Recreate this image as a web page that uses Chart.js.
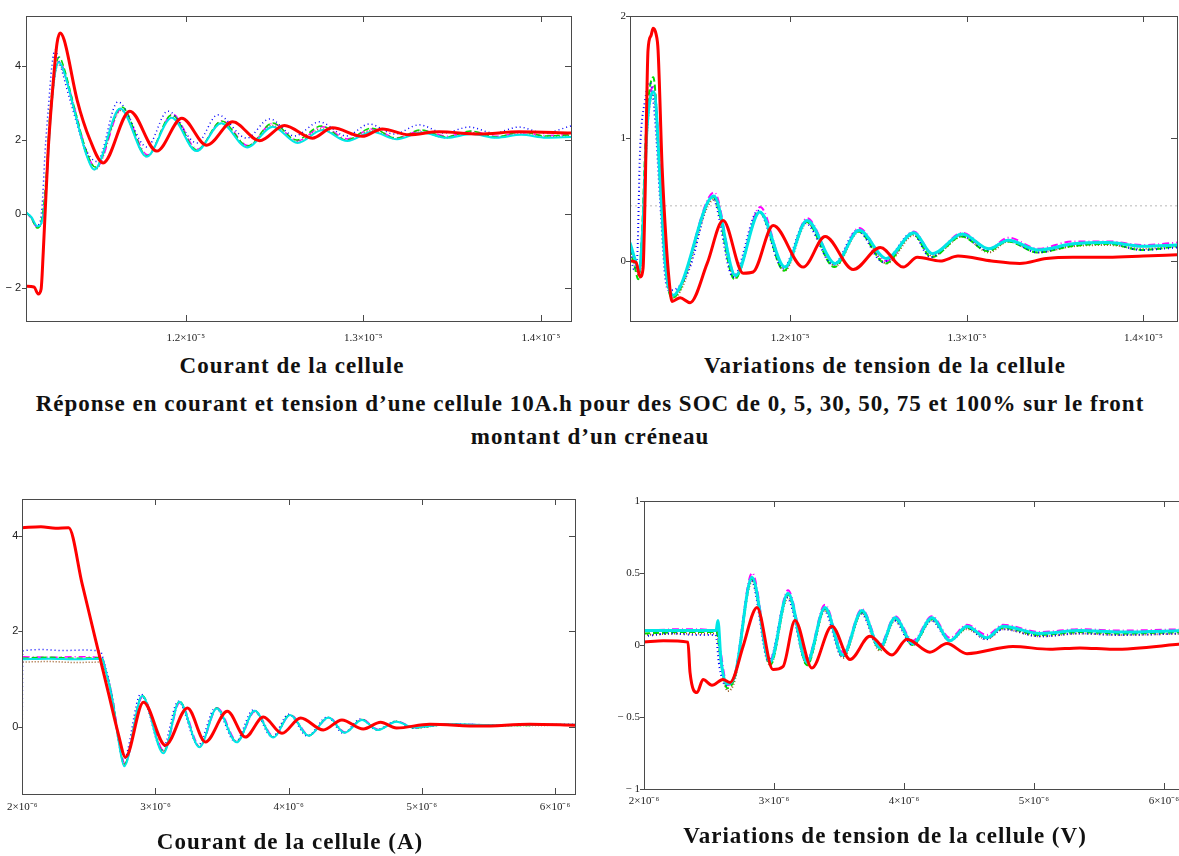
<!DOCTYPE html>
<html lang="fr">
<head>
<meta charset="utf-8">
<title>Réponse en courant et tension d’une cellule 10A.h</title>
<script src="https://cdn.jsdelivr.net/npm/chart.js@4.4.1/dist/chart.umd.min.js"></script>
<style>
  body { margin: 0; width: 1179px; height: 856px; overflow: hidden; position: relative; background: #fff; }
  canvas { position: absolute; }
  .cap { position: absolute; transform: translate(-50%, -50%); font: bold 23px 'Liberation Serif', serif; letter-spacing: 1px; color: #111; white-space: nowrap; }
</style>
</head>
<body>
<canvas id="iMontee" width="590" height="350" style="left:0;top:0"></canvas>
<canvas id="vMontee" width="589" height="350" style="left:590px;top:0"></canvas>
<canvas id="iDescente" width="590" height="350" style="left:0;top:480px"></canvas>
<canvas id="vDescente" width="610" height="350" style="left:590px;top:480px"></canvas>

<div class="cap" style="left:292px;top:366px">Courant de la cellule</div>
<div class="cap" style="left:885px;top:366px">Variations de tension de la cellule</div>
<div class="cap" style="left:590px;top:404px">Réponse en courant et tension d’une cellule 10A.h pour des SOC de 0, 5, 30, 50, 75 et 100% sur le front</div>
<div class="cap" style="left:590px;top:437px">montant d’un créneau</div>
<div class="cap" style="left:290px;top:842px">Courant de la cellule (A)</div>
<div class="cap" style="left:885px;top:836px">Variations de tension de la cellule (V)</div>

<script>
// temps en microsecondes, valeurs en A ou en V
const socLabels = ['SOC 0%', 'SOC 5%', 'SOC 30%', 'SOC 50%', 'SOC 75%', 'SOC 100%'];

// front montant - courant
const iMontee0 = [[11.10,-1.95],[11.145,-1.97],[11.169,-2.16],[11.185,-2.03],[11.197,-1.05],[11.225,1.73],[11.253,3.54],[11.275,4.62],[11.292,4.89],[11.315,4.7],[11.388,3.08],[11.461,2.0],[11.534,1.38],[11.685,2.78],[11.837,1.70],[11.978,2.59],[12.118,1.86],[12.264,2.49],[12.416,1.98],[12.556,2.39],[12.713,2.05],[12.826,2.33],[12.994,2.10],[13.107,2.3],[13.258,2.14],[13.427,2.22],[13.652,2.16],[13.876,2.22],[14.17,2.19]];
const iMontee5 = [[11.10,0.05],[11.124,-0.05],[11.157,-0.32],[11.174,-0.27],[11.191,0.24],[11.208,1.73],[11.225,2.81],[11.247,4.05],[11.264,4.43],[11.281,4.22],[11.348,3.08],[11.433,1.78],[11.50,1.42],[11.618,3.03],[11.781,1.81],[11.899,2.78],[12.062,1.92],[12.18,2.68],[12.343,2.05],[12.472,2.57],[12.612,2.11],[12.753,2.49],[12.904,2.11],[13.034,2.43],[13.174,2.16],[13.315,2.41],[13.455,2.19],[13.596,2.35],[13.736,2.19],[13.876,2.35],[14.017,2.19],[14.17,2.38]];
const iMontee30 = [[11.10,0.05],[11.129,-0.1],[11.163,-0.38],[11.185,-0.22],[11.208,0.65],[11.236,2.81],[11.264,3.89],[11.287,4.24],[11.309,4.03],[11.376,2.81],[11.438,1.73],[11.489,1.27],[11.64,2.89],[11.781,1.57],[11.921,2.68],[12.062,1.73],[12.202,2.51],[12.348,1.84],[12.489,2.46],[12.624,2.0],[12.764,2.38],[12.904,2.0],[13.045,2.32],[13.185,2.05],[13.326,2.27],[13.466,2.08],[13.607,2.24],[13.747,2.08],[13.888,2.22],[14.028,2.11],[14.17,2.14]];
const iMontee50 = [[11.10,0.05],[11.13,-0.12],[11.165,-0.36],[11.19,-0.2],[11.21,0.6],[11.24,2.8],[11.265,3.85],[11.29,4.15],[11.31,3.95],[11.38,2.75],[11.44,1.7],[11.495,1.25],[11.64,2.85],[11.785,1.6],[11.925,2.7],[12.065,1.75],[12.205,2.52],[12.35,1.85],[12.49,2.45],[12.63,1.98],[12.77,2.36],[12.91,2.03],[13.05,2.3],[13.19,2.06],[13.33,2.26],[13.47,2.1],[13.61,2.23],[13.75,2.1],[13.89,2.2],[14.03,2.12],[14.17,2.15]];
const iMontee75 = [[11.10,0.02],[11.13,-0.1],[11.165,-0.35],[11.19,-0.22],[11.21,0.55],[11.24,2.7],[11.265,3.8],[11.285,4.05],[11.31,3.85],[11.38,2.65],[11.44,1.6],[11.49,1.2],[11.635,2.8],[11.78,1.55],[11.92,2.62],[12.06,1.7],[12.2,2.45],[12.345,1.82],[12.485,2.4],[12.625,1.95],[12.765,2.3],[12.905,2.0],[13.045,2.26],[13.185,2.03],[13.325,2.22],[13.465,2.06],[13.605,2.2],[13.745,2.07],[13.885,2.17],[14.025,2.08],[14.17,2.12]];
const iMontee100 = [[11.10,0.05],[11.13,-0.08],[11.165,-0.33],[11.19,-0.2],[11.21,0.5],[11.24,2.7],[11.262,3.75],[11.285,4.1],[11.31,3.9],[11.38,2.65],[11.44,1.6],[11.485,1.2],[11.63,2.85],[11.78,1.55],[11.92,2.6],[12.06,1.7],[12.2,2.45],[12.345,1.8],[12.49,2.36],[12.63,1.92],[12.77,2.27],[12.91,1.97],[13.05,2.22],[13.19,2.02],[13.33,2.2],[13.47,2.06],[13.61,2.16],[13.75,2.06],[13.89,2.14],[14.03,2.06],[14.17,2.08]];

// front montant - tension
const vMontee0 = [[11.093,0.0],[11.127,-0.01],[11.15,-0.13],[11.167,-0.06],[11.178,0.5],[11.195,1.72],[11.212,1.84],[11.224,1.9],[11.241,1.85],[11.252,1.72],[11.275,0.76],[11.297,0.17],[11.314,-0.15],[11.331,-0.33],[11.377,-0.30],[11.433,-0.34],[11.53,-0.02],[11.62,0.33],[11.734,-0.1],[11.79,-0.09],[11.904,0.29],[12.074,-0.05],[12.198,0.2],[12.357,-0.07],[12.51,0.11],[12.64,-0.05],[12.72,0.03],[12.85,0.0],[12.95,0.04],[13.14,0.0],[13.3,-0.02],[13.45,0.02],[13.6,0.03],[13.8,0.03],[14.0,0.04],[14.19,0.05]];
const vMontee5 = [[11.093,0.1],[11.116,-0.07],[11.133,0.01],[11.15,0.9],[11.178,1.31],[11.207,1.46],[11.235,1.15],[11.263,0.5],[11.292,-0.13],[11.314,-0.24],[11.377,-0.2],[11.433,-0.05],[11.558,0.52],[11.677,-0.13],[11.819,0.41],[11.96,-0.06],[12.085,0.31],[12.244,-0.03],[12.38,0.25],[12.527,-0.01],[12.691,0.23],[12.793,0.03],[12.963,0.21],[13.116,0.09],[13.229,0.17],[13.399,0.07],[13.586,0.13],[13.796,0.15],[13.983,0.09],[14.19,0.11]];
const vMontee30 = [[11.093,0.1],[11.12,-0.05],[11.14,-0.15],[11.16,0.2],[11.185,1.1],[11.225,1.5],[11.265,0.6],[11.29,0.0],[11.33,-0.3],[11.37,-0.25],[11.565,0.52],[11.685,-0.15],[11.825,0.4],[11.965,-0.08],[12.09,0.32],[12.25,-0.05],[12.385,0.24],[12.54,-0.02],[12.695,0.22],[12.8,0.03],[12.97,0.2],[13.12,0.08],[13.23,0.16],[13.4,0.07],[13.59,0.12],[13.8,0.14],[13.99,0.09],[14.19,0.12]];
const vMontee50 = [[11.093,0.12],[11.12,0.0],[11.145,-0.1],[11.165,0.3],[11.19,1.15],[11.228,1.42],[11.27,0.55],[11.295,-0.02],[11.335,-0.28],[11.375,-0.22],[11.57,0.56],[11.69,-0.12],[11.83,0.44],[11.97,-0.06],[12.095,0.35],[12.255,-0.02],[12.39,0.27],[12.545,0.0],[12.7,0.24],[12.805,0.06],[12.975,0.23],[13.125,0.1],[13.235,0.19],[13.405,0.1],[13.6,0.16],[13.8,0.16],[14.0,0.13],[14.19,0.15]];
const vMontee75 = [[11.093,0.08],[11.12,-0.02],[11.145,-0.12],[11.165,0.2],[11.19,1.05],[11.225,1.36],[11.268,0.52],[11.295,-0.05],[11.335,-0.3],[11.38,-0.24],[11.568,0.5],[11.688,-0.14],[11.828,0.4],[11.968,-0.08],[12.095,0.31],[12.255,-0.04],[12.39,0.24],[12.545,-0.02],[12.7,0.21],[12.805,0.04],[12.975,0.2],[13.125,0.07],[13.235,0.16],[13.405,0.07],[13.6,0.12],[13.8,0.13],[14.0,0.1],[14.19,0.12]];
const vMontee100 = [[11.093,0.15],[11.12,0.02],[11.145,-0.08],[11.165,0.25],[11.19,1.1],[11.228,1.38],[11.27,0.5],[11.295,-0.05],[11.34,-0.28],[11.38,-0.2],[11.568,0.53],[11.69,-0.12],[11.828,0.4],[11.97,-0.05],[12.095,0.33],[12.255,-0.02],[12.39,0.25],[12.545,0.02],[12.7,0.23],[12.805,0.06],[12.975,0.22],[13.125,0.1],[13.235,0.17],[13.405,0.09],[13.6,0.14],[13.8,0.15],[14.0,0.12],[14.19,0.13]];
const vMonteeRepere = 0.45;

// front descendant - courant
const iDescente0 = [[2.0,4.17],[2.14,4.19],[2.25,4.16],[2.348,4.17],[2.45,2.99],[2.55,1.83],[2.65,0.68],[2.72,-0.13],[2.775,-0.63],[2.91,0.52],[3.075,-0.38],[3.24,0.40],[3.375,-0.31],[3.54,0.33],[3.675,-0.21],[3.81,0.21],[3.95,-0.13],[4.09,0.19],[4.26,-0.06],[4.4,0.15],[4.56,-0.04],[4.69,0.1],[4.81,-0.02],[5.06,0.06],[5.44,0.02],[5.81,0.06],[6.15,0.04]];
const iDescente5 = [[2.0,0.0],[2.003,1.59],[2.15,1.62],[2.3,1.6],[2.45,1.61],[2.585,1.59],[2.61,1.40],[2.68,0.57],[2.72,-0.27],[2.76,-0.69],[2.89,0.69],[3.05,-0.48],[3.17,0.54],[3.32,-0.38],[3.45,0.40],[3.6,-0.31],[3.735,0.36],[3.875,-0.21],[4.0,0.27],[4.14,-0.19],[4.29,0.21],[4.41,-0.13],[4.54,0.17],[4.66,-0.06],[4.8,0.12],[4.93,-0.02],[5.21,0.06],[5.59,0.04],[6.15,0.06]];
const iDescente30 = [[2.003,1.44],[2.2,1.46],[2.4,1.44],[2.6,1.45],[2.615,1.3],[2.68,0.55],[2.725,-0.3],[2.765,-0.78],[2.9,0.66],[3.06,-0.52],[3.18,0.54],[3.33,-0.42],[3.46,0.40],[3.61,-0.31],[3.745,0.34],[3.885,-0.21],[4.01,0.26],[4.15,-0.18],[4.3,0.2],[4.42,-0.12],[4.55,0.16],[4.67,-0.06],[4.81,0.12],[4.94,-0.02],[5.2,0.06],[5.6,0.03],[6.15,0.05]];
const iDescente50 = [[2.003,1.47],[2.2,1.46],[2.4,1.47],[2.6,1.45],[2.618,1.3],[2.685,0.5],[2.73,-0.32],[2.77,-0.76],[2.905,0.64],[3.065,-0.5],[3.185,0.52],[3.335,-0.4],[3.465,0.40],[3.615,-0.3],[3.75,0.33],[3.89,-0.2],[4.015,0.26],[4.155,-0.17],[4.305,0.2],[4.425,-0.11],[4.555,0.16],[4.675,-0.05],[4.815,0.12],[4.945,-0.01],[5.2,0.07],[5.6,0.04],[6.15,0.05]];
const iDescente75 = [[2.003,1.36],[2.2,1.37],[2.4,1.35],[2.6,1.36],[2.615,1.25],[2.68,0.5],[2.725,-0.3],[2.765,-0.8],[2.9,0.62],[3.06,-0.5],[3.18,0.5],[3.33,-0.4],[3.46,0.38],[3.61,-0.3],[3.745,0.32],[3.885,-0.2],[4.01,0.25],[4.15,-0.17],[4.3,0.19],[4.42,-0.11],[4.55,0.15],[4.67,-0.05],[4.81,0.11],[4.94,-0.02],[5.2,0.05],[5.6,0.03],[6.15,0.04]];
const iDescente100 = [[2.003,1.42],[2.2,1.43],[2.4,1.42],[2.6,1.43],[2.615,1.3],[2.68,0.52],[2.725,-0.32],[2.765,-0.82],[2.9,0.65],[3.06,-0.55],[3.18,0.53],[3.33,-0.42],[3.46,0.39],[3.61,-0.32],[3.745,0.34],[3.885,-0.22],[4.01,0.25],[4.15,-0.18],[4.3,0.2],[4.42,-0.12],[4.55,0.15],[4.67,-0.06],[4.81,0.11],[4.94,-0.01],[5.2,0.06],[5.6,0.04],[6.15,0.05]];

// front descendant - tension
const vDescente0 = [[2.0,0.02],[2.15,0.03],[2.338,0.02],[2.354,-0.19],[2.408,-0.33],[2.454,-0.24],[2.523,-0.28],[2.608,-0.24],[2.662,-0.26],[2.762,-0.01],[2.838,0.22],[2.869,0.26],[2.992,-0.17],[3.069,-0.15],[3.162,0.17],[3.292,-0.16],[3.446,0.13],[3.585,-0.10],[3.738,0.06],[3.908,-0.07],[4.023,0.04],[4.2,-0.05],[4.331,0.01],[4.485,-0.06],[4.838,-0.01],[5.123,-0.03],[5.354,-0.02],[5.608,-0.03],[6.17,0.01]];
const vDescente5 = [[2.0,0.06],[2.2,0.08],[2.4,0.07],[2.55,0.07],[2.58,-0.15],[2.63,-0.28],[2.7,-0.2],[2.825,0.45],[2.96,-0.12],[3.1,0.33],[3.25,-0.12],[3.385,0.24],[3.525,-0.08],[3.67,0.22],[3.81,-0.02],[3.925,0.17],[4.065,0.0],[4.21,0.17],[4.35,0.03],[4.48,0.12],[4.63,0.04],[4.76,0.11],[5.05,0.06],[5.35,0.08],[5.65,0.07],[6.17,0.08]];
const vDescente30 = [[2.0,0.08],[2.3,0.09],[2.56,0.09],[2.59,-0.1],[2.64,-0.3],[2.7,-0.22],[2.832,0.46],[2.97,-0.14],[3.108,0.35],[3.255,-0.14],[3.392,0.25],[3.531,-0.08],[3.677,0.23],[3.815,-0.03],[3.931,0.18],[4.069,0.0],[4.215,0.18],[4.354,0.03],[4.485,0.12],[4.638,0.05],[4.762,0.12],[5.046,0.07],[5.354,0.09],[5.662,0.08],[6.17,0.09]];
const vDescente50 = [[2.0,0.1],[2.3,0.11],[2.56,0.1],[2.59,-0.05],[2.64,-0.28],[2.7,-0.2],[2.832,0.5],[2.97,-0.1],[3.108,0.38],[3.255,-0.1],[3.392,0.28],[3.531,-0.05],[3.677,0.25],[3.815,0.0],[3.931,0.2],[4.069,0.03],[4.215,0.2],[4.354,0.05],[4.485,0.14],[4.638,0.07],[4.762,0.14],[5.046,0.09],[5.354,0.11],[5.662,0.1],[6.17,0.11]];
const vDescente75 = [[2.0,0.07],[2.3,0.08],[2.56,0.08],[2.59,-0.12],[2.645,-0.32],[2.7,-0.24],[2.83,0.44],[2.97,-0.14],[3.108,0.33],[3.255,-0.14],[3.392,0.24],[3.531,-0.09],[3.677,0.22],[3.815,-0.04],[3.931,0.17],[4.069,0.0],[4.215,0.17],[4.354,0.03],[4.485,0.11],[4.638,0.04],[4.762,0.11],[5.046,0.06],[5.354,0.08],[5.662,0.07],[6.17,0.08]];
const vDescente100 = [[2.0,0.1],[2.3,0.1],[2.554,0.1],[2.569,0.17],[2.592,-0.1],[2.638,-0.27],[2.7,-0.21],[2.831,0.47],[2.969,-0.12],[3.108,0.36],[3.254,-0.12],[3.392,0.26],[3.531,-0.07],[3.677,0.24],[3.815,-0.02],[3.931,0.19],[4.069,0.01],[4.215,0.19],[4.354,0.03],[4.485,0.13],[4.638,0.05],[4.762,0.13],[5.046,0.08],[5.354,0.1],[5.662,0.09],[6.17,0.1]];

// graduations
const xTicksMontee = [12, 13, 14];
const xLabelsMontee = ['1.2×10⁻⁵', '1.3×10⁻⁵', '1.4×10⁻⁵'];
const xTicksDescente = [2, 3, 4, 5, 6];
const xLabelsDescente = ['2×10⁻⁶', '3×10⁻⁶', '4×10⁻⁶', '5×10⁻⁶', '6×10⁻⁶'];
const yTicksIMontee = [-2, 0, 2, 4];
const yLabelsIMontee = ['− 2', '0', '2', '4'];
const yTicksVMontee = [0, 1, 2];
const yLabelsVMontee = ['0', '1', '2'];
const yTicksIDescente = [0, 2, 4];
const yLabelsIDescente = ['0', '2', '4'];
const yTicksVDescente = [-1, -0.5, 0, 0.5, 1];
const yLabelsVDescente = ['− 1', '− 0.5', '0', '0.5', '1'];

// styles des traces (style Mathcad)
const traceColors = ['#ff0000', '#0000ff', '#00dd00', '#ff00ff', '#9c5a24', '#00e6e6'];
const traceDash = [[], [1, 3], [6, 3], [7, 3, 1, 3], [1, 2], []];
const traceOrder = [0, 2, 2, 2, 2, 1];

const pts = arr => arr.map(p => ({ x: p[0], y: p[1] }));

// cadre + petites graduations
const cadre = {
  id: 'cadre',
  afterDraw(chart) {
    const { ctx, chartArea: a } = chart;
    const sx = chart.scales.x, sy = chart.scales.y;
    ctx.save();
    ctx.strokeStyle = '#4a4a4a';
    ctx.lineWidth = 1;
    ctx.strokeRect(Math.round(a.left) + 0.5, Math.round(a.top) + 0.5, Math.round(a.right - a.left), Math.round(a.bottom - a.top));
    ctx.beginPath();
    sx.ticks.forEach(t => {
      const px = Math.round(sx.getPixelForValue(t.value)) + 0.5;
      ctx.moveTo(px, a.top); ctx.lineTo(px, a.top + 6);
      ctx.moveTo(px, a.bottom); ctx.lineTo(px, a.bottom - 6);
    });
    sy.ticks.forEach(t => {
      const py = Math.round(sy.getPixelForValue(t.value)) + 0.5;
      ctx.moveTo(a.left - 4, py); ctx.lineTo(a.left, py);
      ctx.moveTo(a.right, py); ctx.lineTo(a.right - 6, py);
    });
    ctx.stroke();
    ctx.restore();
  }
};

function panel(id, series, widths, o) {
  const datasets = series.map((s, i) => ({
    label: socLabels[i],
    data: pts(s),
    borderColor: traceColors[i],
    borderDash: traceDash[i],
    borderWidth: widths[i],
    order: traceOrder[i],
    pointRadius: 0,
    cubicInterpolationMode: 'monotone',
    fill: false
  }));
  if (o.repere !== undefined) {
    datasets.push({
      label: 'repère',
      data: [{ x: o.xMin, y: o.repere }, { x: o.xMax, y: o.repere }],
      borderColor: '#cfcfcf',
      borderDash: [2, 3],
      borderWidth: 1.5,
      order: 5,
      pointRadius: 0
    });
  }
  new Chart(document.getElementById(id), {
    type: 'line',
    data: { datasets },
    options: {
      responsive: false,
      animation: false,
      layout: { padding: o.pad },
      plugins: { legend: { display: false }, tooltip: { enabled: false } },
      scales: {
        x: {
          type: 'linear', min: o.xMin, max: o.xMax,
          grid: { display: false, drawTicks: false }, border: { display: false },
          afterBuildTicks: s => { s.ticks = o.xTicks.map(v => ({ value: v })); },
          afterFit: s => { s.height = o.xH; },
          ticks: {
            autoSkip: false, maxRotation: 0, minRotation: 0, padding: o.xPad,
            color: '#222', font: { family: 'Liberation Serif', size: 11 },
            callback: (v, i) => o.xLabels[i]
          }
        },
        y: {
          type: 'linear', min: o.yMin, max: o.yMax,
          grid: { display: false, drawTicks: false }, border: { display: false },
          afterBuildTicks: s => { s.ticks = o.yTicks.map(v => ({ value: v })); },
          afterFit: s => { s.width = o.yW; },
          ticks: {
            autoSkip: false, padding: o.yPad,
            color: '#222', font: { family: o.yFont, size: 11 },
            callback: (v, i) => o.yLabels[i]
          }
        }
      }
    },
    plugins: [cadre]
  });
}

panel('iMontee', [iMontee0, iMontee5, iMontee30, iMontee50, iMontee75, iMontee100], [3, 1.5, 1.5, 1.5, 1.5, 2], {
  xMin: 11.10, xMax: 14.17, yMin: -2.89, yMax: 5.35,
  xTicks: xTicksMontee, xLabels: xLabelsMontee, yTicks: yTicksIMontee, yLabels: yLabelsIMontee,
  yFont: 'Liberation Sans', pad: { top: 16, right: 19, left: 0, bottom: 0 }, yW: 26, xH: 29, xPad: 11, yPad: 5
});

panel('vMontee', [vMontee0, vMontee5, vMontee30, vMontee50, vMontee75, vMontee100], [3, 2, 2, 2, 2, 3], {
  xMin: 11.093, xMax: 14.19, yMin: -0.49, yMax: 2,
  xTicks: xTicksMontee, xLabels: xLabelsMontee, yTicks: yTicksVMontee, yLabels: yLabelsVMontee,
  yFont: 'Liberation Serif', pad: { top: 16, right: 2, left: 0, bottom: 0 }, yW: 40, xH: 29, xPad: 11, yPad: 4,
  repere: vMonteeRepere
});

panel('iDescente', [iDescente0, iDescente5, iDescente30, iDescente50, iDescente75, iDescente100], [3, 1.5, 1.5, 1.5, 1.5, 2], {
  xMin: 2.0, xMax: 6.15, yMin: -1.40, yMax: 4.77,
  xTicks: xTicksDescente, xLabels: xLabelsDescente, yTicks: yTicksIDescente, yLabels: yLabelsIDescente,
  yFont: 'Liberation Sans', pad: { top: 19, right: 15, left: 0, bottom: 0 }, yW: 22, xH: 36, xPad: 7, yPad: 4
});

panel('vDescente', [vDescente0, vDescente5, vDescente30, vDescente50, vDescente75, vDescente100], [3, 2, 2, 2, 2, 3], {
  xMin: 2.0, xMax: 6.17, yMin: -1, yMax: 1,
  xTicks: xTicksDescente, xLabels: xLabelsDescente, yTicks: yTicksVDescente, yLabels: yLabelsVDescente,
  yFont: 'Liberation Serif', pad: { top: 21, right: 14, left: 0, bottom: 0 }, yW: 54, xH: 41, xPad: 6, yPad: 4
});
</script>
</body>
</html>
